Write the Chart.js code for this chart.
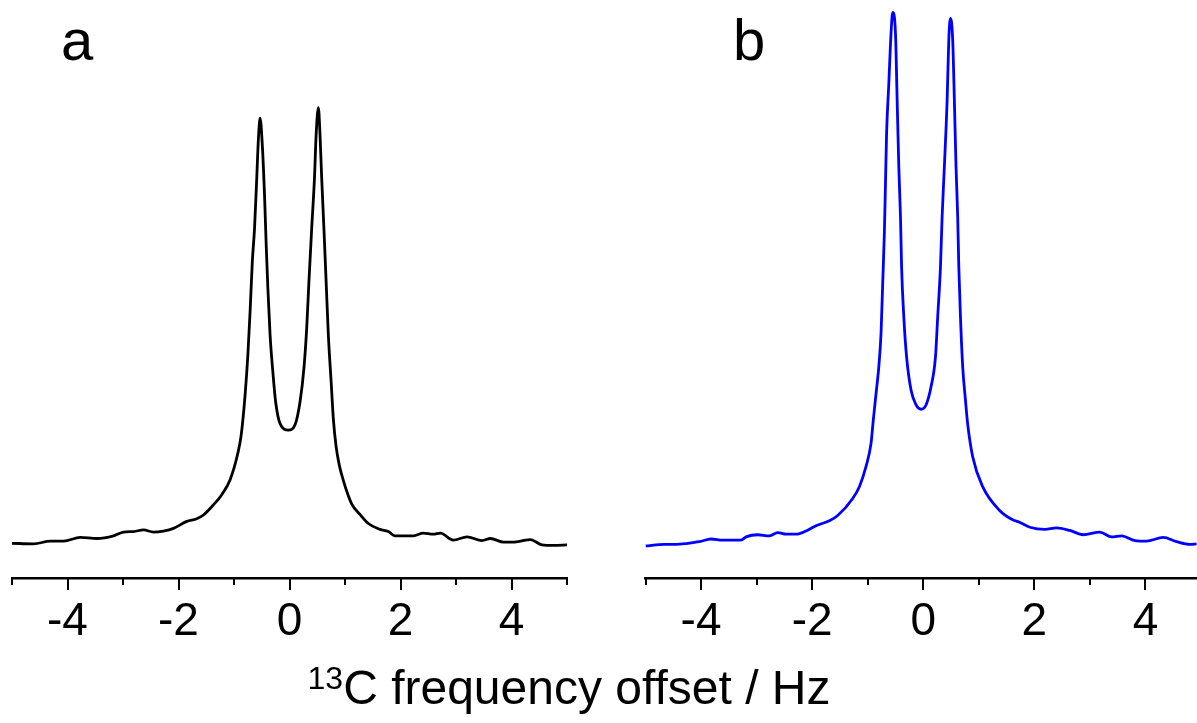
<!DOCTYPE html>
<html>
<head>
<meta charset="utf-8">
<script src="https://cdn.jsdelivr.net/npm/chart.js@4.4.1/dist/chart.umd.min.js"></script>
<style>
  html, body { margin: 0; padding: 0; background: #fff; overflow: hidden; }
  body { width: 1197px; height: 723px; position: relative; font-family: "Liberation Sans", Arial, sans-serif; }
  .panel { position: absolute; top: 0; width: 580px; height: 723px; }
  .lbl { position: absolute; color: #000; white-space: nowrap; }
  .tag { font-size: 58px; line-height: 58px; }
  .xt { font-size: 48px; line-height: 48px; }
  sup { font-size: 32px; vertical-align: 0; position: relative; top: -15px; }
</style>
</head>
<body>
<div class="panel" id="wrap_a" style="left:0px"><canvas id="chart_a"></canvas></div>
<div class="panel" id="wrap_b" style="left:633px"><canvas id="chart_b"></canvas></div>
<div class="lbl tag" style="left:61px; top:11px">a</div>
<div class="lbl tag" style="left:733px; top:11px">b</div>
<div class="lbl xt" style="left:0; width:1138px; top:664px; text-align:center"><sup>13</sup>C frequency offset / Hz</div>
<script>
// spectrum a (black), offset in Hz / intensity (arb. units)
var freqA = [-5.00,-4.61,-4.31,-4.07,-3.77,-3.47,-3.17,-2.99,-2.81,-2.63,-2.45,-2.27,-2.09,-1.85,-1.67,-1.55,-1.37,-1.22,-1.07,-0.93,
  -0.87,-0.80,-0.75,-0.71,-0.67,-0.63,-0.59,-0.56,-0.53,-0.49,-0.45,-0.42,-0.39,-0.35,-0.30,-0.25,-0.17,-0.02,0.10,0.19,
  0.26,0.31,0.35,0.40,0.45,0.48,0.52,0.55,0.58,0.62,0.66,0.70,0.75,0.79,0.84,0.90,0.97,1.03,1.12,1.27,
  1.42,1.63,1.78,1.90,2.12,2.23,2.41,2.59,2.72,2.95,3.20,3.47,3.62,3.86,4.01,4.16,4.34,4.55,4.76,5.00];
var intA = [0.5,0.4,0.9,0.9,1.6,1.4,1.9,2.6,2.7,3.0,2.6,2.8,3.3,4.6,5.1,5.8,7.7,9.6,12.4,17.4,
  20.8,28.3,35.8,43.9,53.2,59.5,68.9,76.3,80.1,75.1,65.7,56.4,48.3,39.5,32.6,27.0,22.9,21.7,22.7,27.0,
  33.3,40.8,49.5,59.5,68.9,77.0,82.1,77.0,68.9,59.5,49.5,39.5,30.8,23.8,18.6,15.0,12.3,10.3,7.9,5.9,
  4.2,3.1,2.7,1.9,1.9,1.9,2.4,2.2,2.4,1.1,1.7,1.0,1.4,0.7,0.7,0.9,1.2,0.2,0.1,0.2];

// spectrum b (blue)
var freqB = [-5.00,-4.66,-4.45,-4.24,-4.03,-3.82,-3.61,-3.28,-3.19,-2.98,-2.77,-2.62,-2.47,-2.29,-2.11,-1.93,-1.69,-1.54,-1.27,-1.15,
  -1.03,-0.94,-0.90,-0.85,-0.80,-0.76,-0.73,-0.70,-0.68,-0.66,-0.62,-0.58,-0.55,-0.50,-0.47,-0.44,-0.41,-0.39,-0.35,-0.30,
  -0.22,-0.13,-0.04,0.05,0.14,0.22,0.26,0.31,0.34,0.38,0.43,0.46,0.49,0.53,0.56,0.59,0.62,0.64,0.67,0.71,
  0.76,0.80,0.89,1.07,1.37,1.61,1.74,1.92,2.19,2.40,2.64,2.88,3.18,3.39,3.57,3.81,4.02,4.32,4.56,4.80,4.92];
var intB = [0.0,0.3,0.3,0.5,0.8,1.3,1.1,1.1,1.7,2.1,1.9,2.5,2.2,2.2,2.8,3.8,4.7,5.7,8.9,11.1,
  14.9,19.2,23.5,28.5,33.6,39.8,49.2,58.6,67.9,77.3,86.6,96.0,99.9,96.0,83.5,71.0,61.7,52.3,42.9,35.4,
  29.2,26.4,25.6,26.4,29.8,35.4,42.9,52.3,61.7,71.0,83.5,94.8,98.8,94.8,83.5,71.0,61.7,52.3,42.9,33.6,
  27.3,22.8,16.7,11.1,6.7,4.9,4.4,3.5,3.1,3.4,2.9,2.1,2.6,1.7,1.9,1.0,0.9,1.6,0.8,0.3,0.4];

var tickVals = [-5,-4,-3,-2,-1,0,1,2,3,4,5];
var labelVals = [-4,-2,0,2,4];

Chart.defaults.font.family = '"Liberation Sans", Arial, sans-serif';
Chart.defaults.color = '#000';

// short ticks on odd values, long ticks on even ones
var axisTicks = {
  id: 'axisTicks',
  afterDraw: function(chart) {
    var sc = chart.scales.x, ctx = chart.ctx;
    ctx.save();
    ctx.strokeStyle = '#000';
    ctx.lineWidth = 2;
    tickVals.forEach(function(v) {
      var px = Math.round(sc.getPixelForValue(v));
      ctx.beginPath();
      ctx.moveTo(px, sc.top);
      ctx.lineTo(px, sc.top + (labelVals.indexOf(v) >= 0 ? 12 : 7));
      ctx.stroke();
    });
    ctx.restore();
  }
};

function drawSpectrum(id, freq, inten, color, padL, padR) {
  var canvas = document.getElementById(id);
  canvas.width = 580;
  canvas.height = 723;
  var pts = freq.map(function(f, i) { return {x: f, y: inten[i]}; });
  return new Chart(canvas.getContext('2d'), {
    type: 'line',
    data: { datasets: [{ data: pts, borderColor: color, borderWidth: 2.8, pointRadius: 0,
      pointHoverRadius: 0, cubicInterpolationMode: 'monotone', fill: false }] },
    options: {
      responsive: false,
      animation: false,
      layout: { autoPadding: false, padding: { left: padL, right: padR, top: 5, bottom: 0 } },
      plugins: { legend: { display: false }, tooltip: { enabled: false } },
      scales: {
        x: {
          type: 'linear', min: -5, max: 5,
          afterFit: function(s) { s.height = 145; },
          // tick marks themselves come from the axisTicks plugin; tickLength only offsets the labels
          grid: { display: false, drawTicks: true, tickLength: 17 },
          border: { display: true, color: '#000', width: 2.5 },
          ticks: {
            stepSize: 1, autoSkip: false, maxRotation: 0, padding: 0,
            font: { size: 46 },
            callback: function(v) { return labelVals.indexOf(v) >= 0 ? String(v) : ''; }
          }
        },
        y: { display: false, min: -6, max: 101.3 }
      }
    },
    plugins: [axisTicks]
  });
}

drawSpectrum('chart_a', freqA, intA, '#000000', 12, 13);
drawSpectrum('chart_b', freqB, intB, '#0000ff', 12.5, 12);
</script>
</body>
</html>
